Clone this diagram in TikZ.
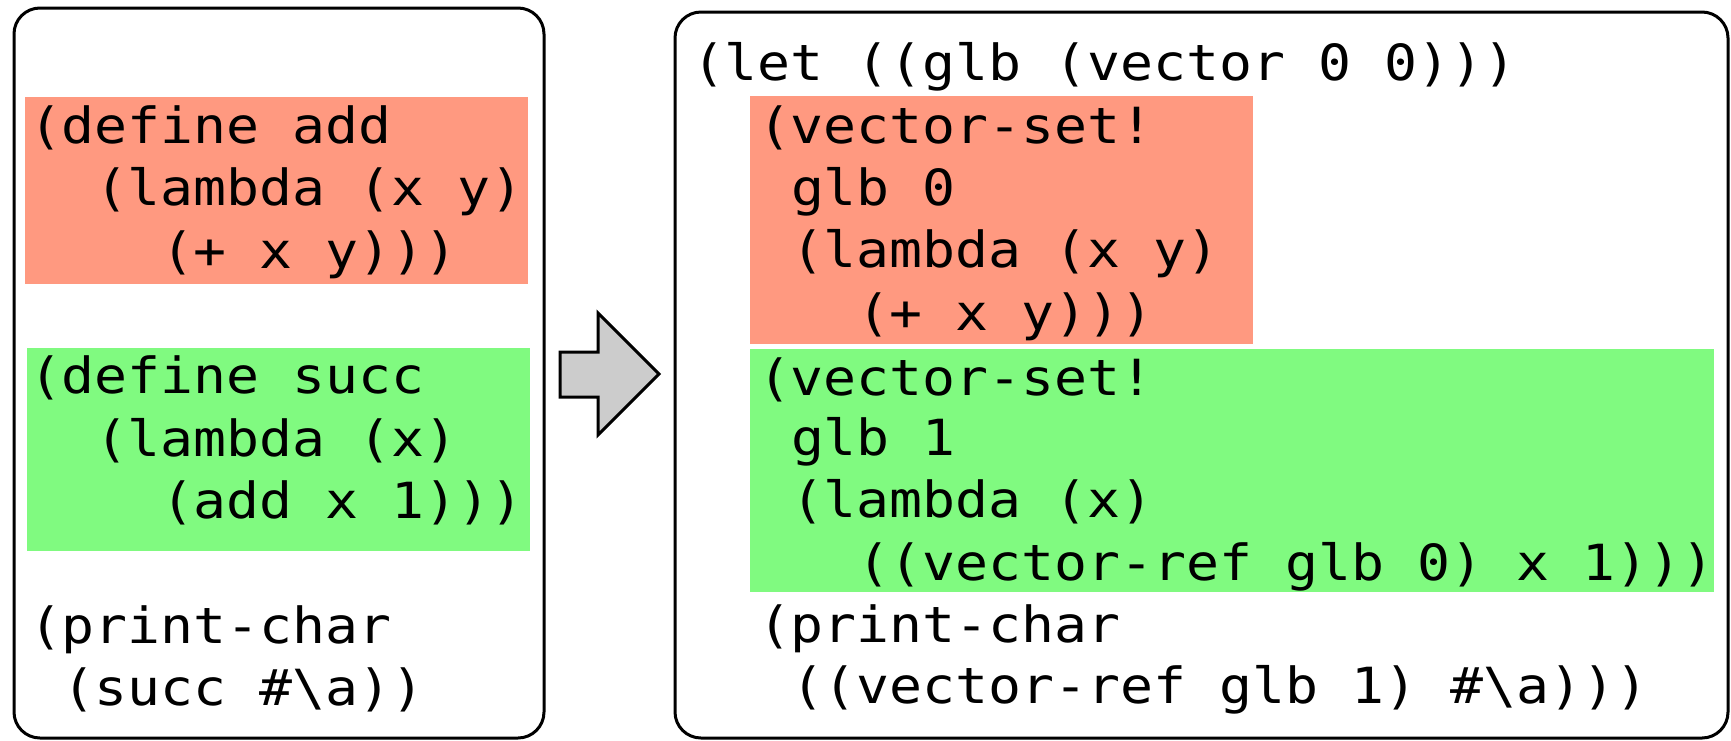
\documentclass[tikz,border=0pt]{standalone}
\usepackage{fontspec}
\newfontfamily\codefont[FakeStretch=1.1,RawFeature=+zero]{DejaVu Sans Mono}
\definecolor{redbg}{RGB}{255,153,128}
\definecolor{greenbg}{RGB}{128,250,128}
\definecolor{arrowgray}{RGB}{204,204,204}
\tikzset{
  code/.style={anchor=base west, inner sep=0pt, outer sep=0pt, font=\codefont\fontsize{49.8pt}{62pt}\selectfont},
  panel/.style={draw=black, line width=3pt, rounded corners=26pt},
  bigarrow/.style={draw=black, line width=3pt, fill=arrowgray, line join=miter},
}
\begin{document}
\begin{tikzpicture}[x=1pt,y=-1pt]
\useasboundingbox (0,0) rectangle (1731,740);
\fill[white] (0,0) rectangle (1731,740);
% panels
\draw[panel] (14,8) rectangle (544,738);
\draw[panel] (675,12) rectangle (1728,738);
% highlight blocks
\fill[redbg] (25,97) rectangle (528,284);
\fill[greenbg] (27,348) rectangle (530,551);
\fill[redbg] (750,96) rectangle (1253,344);
\fill[greenbg] (750,349) rectangle (1714,592);
% arrow
\draw[bigarrow] (560,352) -- (598,352) -- (598,313) -- (659,374) -- (598,435) -- (598,397) -- (560,397) -- cycle;
% left code
\node[code] (l1) at (29,143) {(define add};
\node[code] (l2) at (95,205) {(lambda (x y)};
\node[code] (l3) at (161,268) {(+ x y)))};
\node[code] (l4) at (29,393) {(define succ};
\node[code] (l5) at (95,456) {(lambda (x)};
\node[code] (l6) at (161,518) {(add x 1)))};
\node[code] (l7) at (29,643) {(print-char};
\node[code] (l8) at (62,705) {(succ \#\textbackslash a))};
% right code
\node[code] (r1) at (692,80) {(let ((glb (vector 0 0)))};
\node[code] (r2) at (758,143) {(vector-set!};
\node[code] (r3) at (791,205) {glb 0};
\node[code] (r4) at (791,267) {(lambda (x y)};
\node[code] (r5) at (857,330) {(+ x y)))};
\node[code] (r6) at (758,395) {(vector-set!};
\node[code] (r7) at (791,455) {glb 1};
\node[code] (r8) at (791,517) {(lambda (x)};
\node[code] (r9) at (857,580) {((vector-ref glb 0) x 1)))};
\node[code] (r10) at (758,642) {(print-char};
\node[code] (r11) at (791,703) {((vector-ref glb 1) \#\textbackslash a)))};
\end{tikzpicture}
\end{document}
